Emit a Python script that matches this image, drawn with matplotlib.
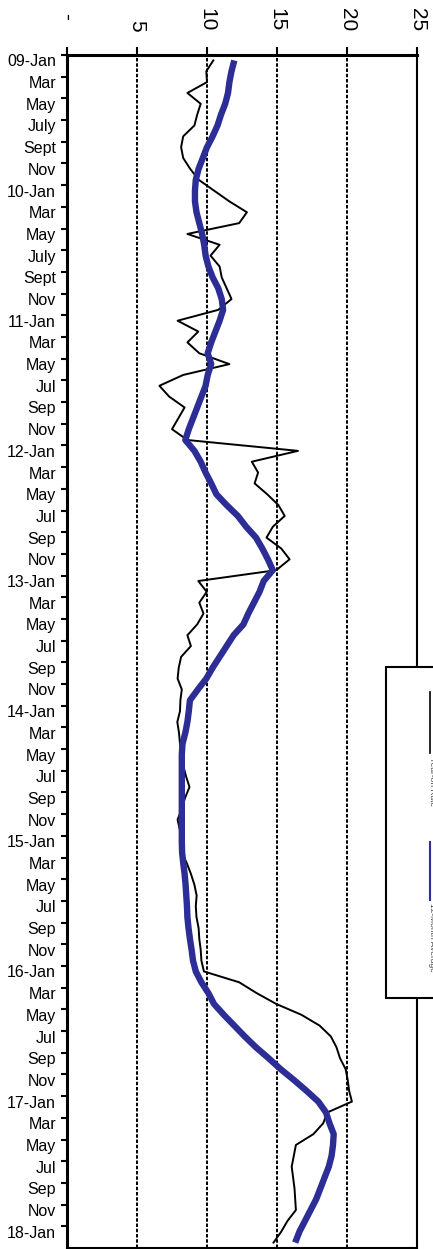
import matplotlib
matplotlib.use("Agg")
import matplotlib.pyplot as plt
from matplotlib.patches import Rectangle
from matplotlib.lines import Line2D
import numpy as np

plt.rcParams['font.family'] = ['Liberation Sans', 'DejaVu Sans']

# ---------------- data ----------------
tick_labels = ['09-Jan', 'Mar', 'May', 'July', 'Sept', 'Nov',
               '10-Jan', 'Mar', 'May', 'July', 'Sept', 'Nov',
               '11-Jan', 'Mar', 'May', 'Jul', 'Sep', 'Nov',
               '12-Jan', 'Mar', 'May', 'Jul', 'Sep', 'Nov',
               '13-Jan', 'Mar', 'May', 'Jul', 'Sep', 'Nov',
               '14-Jan', 'Mar', 'May', 'Jul', 'Sep', 'Nov',
               '15-Jan', 'Mar', 'May', 'Jul', 'Sep', 'Nov',
               '16-Jan', 'Mar', 'May', 'Jul', 'Sep', 'Nov',
               '17-Jan', 'Mar', 'May', 'Jul', 'Sep', 'Nov',
               '18-Jan']

yoy_rate = [10.45, 9.95, 10.0, 8.6, 9.55, 9.3, 9.1, 8.3, 8.15, 8.3,
            8.8, 9.4, 10.5, 11.6, 12.85, 12.3, 8.6, 10.9, 10.25, 10.9,
            11.05, 11.4, 11.75, 10.8, 7.9, 9.38, 8.6, 9.45, 11.6, 8.3,
            6.6, 7.3, 8.4, 7.95, 7.5, 8.6, 16.5, 13.2, 13.65, 13.4,
            14.3, 15.1, 15.55, 14.7, 14.25, 15.3, 15.9, 14.95, 9.38, 9.98,
            9.45, 9.75, 9.3, 8.6, 8.85, 8.15, 7.98, 7.9, 8.2, 8.1,
            8.07, 7.88, 8.0, 8.07, 8.2, 8.3, 8.5, 8.75, 8.43, 8.2,
            7.9, 8.07, 8.12, 8.2, 8.55, 8.85, 9.1, 9.26, 9.2, 9.25,
            9.4, 9.45, 9.55, 9.6, 9.78, 12.3, 13.55, 14.95, 16.75, 18.05,
            18.85, 19.25, 19.5, 19.9, 20.05, 20.15, 20.35, 18.6, 18.3, 17.6,
            16.35, 16.2, 16.05, 16.15, 16.25, 16.3, 16.35, 15.75, 15.3, 14.75]

avg_12m = [11.95, 11.75, 11.6, 11.5, 11.3, 11.0, 10.75, 10.4, 10.0, 9.7,
           9.4, 9.2, 9.14, 9.14, 9.25, 9.45, 9.65, 9.8, 9.9, 10.1,
           10.4, 10.8, 11.05, 11.15, 10.9, 10.6, 10.3, 10.05, 10.3, 10.05,
           9.9, 9.6, 9.3, 9.0, 8.7, 8.45, 9.1, 9.55, 9.9, 10.3,
           10.67, 11.4, 12.2, 12.8, 13.5, 13.95, 14.35, 14.7, 14.05, 13.75,
           13.35, 12.95, 12.6, 11.9, 11.4, 10.9, 10.4, 9.95, 9.35, 8.78,
           8.7, 8.6, 8.45, 8.25, 8.2, 8.2, 8.2, 8.2, 8.2, 8.2,
           8.2, 8.2, 8.2, 8.22, 8.3, 8.4, 8.47, 8.52, 8.57, 8.6,
           8.68, 8.78, 8.9, 9.0, 9.2, 9.6, 10.1, 10.5, 11.2, 11.95,
           12.7, 13.5, 14.4, 15.25, 16.2, 17.1, 17.95, 18.5, 18.75, 19.05,
           19.0, 18.9, 18.7, 18.4, 18.1, 17.8, 17.4, 17.0, 16.6, 16.3]

value_ticks = [0, 5, 10, 15, 20, 25]
value_tick_labels = ['-  ', '5', '10', '15', '20', '25']
series_names = ['Year-on Rate', '12-Month Average']

# ---------------- figure ----------------
W, H = 433, 1249
fig = plt.figure(figsize=(W / 100, H / 100), dpi=100)
ax = fig.add_axes([67 / W, 1 - 1248 / H, 350 / W, (1248 - 55) / H])

n = len(yoy_rate)
pos = np.arange(n) + 0.5
blue = '#2D2D96'

ax.plot(yoy_rate, pos, color='black', lw=1.4, zorder=3)
ax.plot(avg_12m, pos, color=blue, lw=4.6, zorder=4,
        solid_joinstyle='round', solid_capstyle='butt')

ax.set_xlim(0, 25)
ax.set_ylim(n, 0)

for v in value_ticks[1:-1]:
    ax.axvline(v, color='black', lw=1.4, ls=(0, (1.8, 0.9)), zorder=2)

ax.xaxis.tick_top()
ax.set_xticks(value_ticks)
ax.set_xticklabels(value_tick_labels, rotation=-90, fontsize=15)
ax.tick_params(axis='x', which='major', direction='out', length=6,
               width=1.5, pad=11)

major_y = np.arange(0, n, 2)
ax.set_yticks(major_y)
ax.set_yticklabels([])
ax.set_yticks(major_y + 0.5, minor=True)
ax.set_yticklabels(tick_labels, minor=True, fontsize=11.5)
ax.tick_params(axis='y', which='major', direction='out', length=4, width=1.5)
ax.tick_params(axis='y', which='minor', length=0, pad=8)

ax.spines['left'].set_linewidth(2.2)
ax.spines['top'].set_linewidth(2.2)
ax.spines['right'].set_linewidth(1.5)
ax.spines['bottom'].set_linewidth(1.5)


# ---------------- legend (rotated, drawn manually) ----------------
def fx(x):
    return x / W


def fy(y):
    return 1 - y / H


fig.add_artist(Rectangle((fx(386), fy(998)), fx(450) - fx(386),
                         fy(667) - fy(998), transform=fig.transFigure,
                         facecolor='white', edgecolor='black', lw=1.5,
                         zorder=10, clip_on=False))
fig.add_artist(Line2D([fx(430), fx(430)], [fy(692), fy(753)],
                      transform=fig.transFigure, color='black', lw=1.2,
                      zorder=11))
fig.add_artist(Line2D([fx(430), fx(430)], [fy(842), fy(900)],
                      transform=fig.transFigure, color=blue, lw=1.5,
                      zorder=11))
fig.text(fx(431), fy(757), series_names[0], rotation=-90, ha='center',
         va='top', fontsize=6, color='#444444', zorder=12)
fig.text(fx(431), fy(903), series_names[1], rotation=-90, ha='center',
         va='top', fontsize=6, color='#444444', zorder=12)

fig.savefig('out.png', dpi=100)
